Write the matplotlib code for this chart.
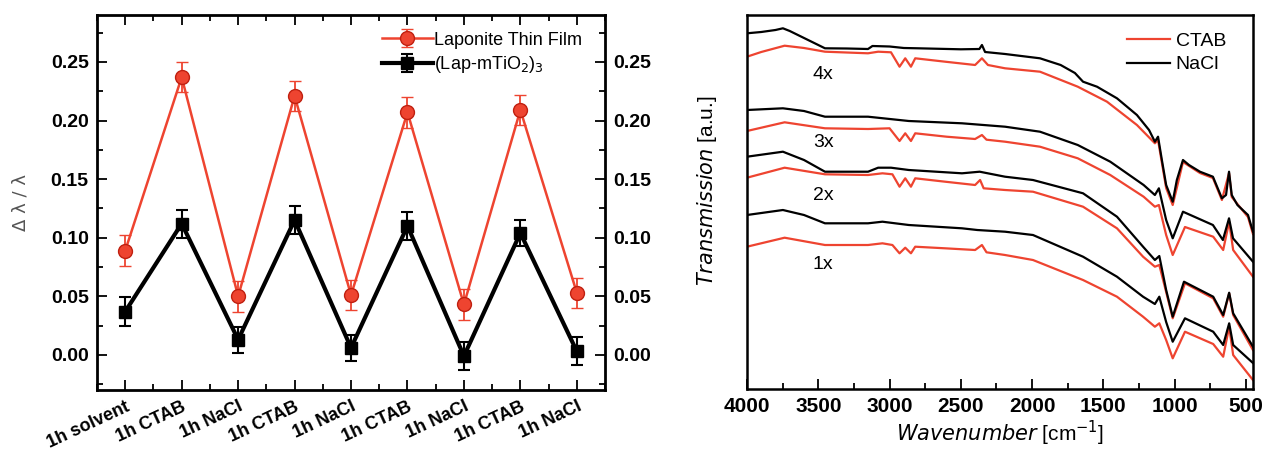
import numpy as np
import matplotlib
matplotlib.use("Agg")
import matplotlib.pyplot as plt
from matplotlib.ticker import MultipleLocator

plt.rcParams['font.family'] = ['Liberation Sans', 'DejaVu Sans']

# ---- left panel data ----
categories = ['1h solvent', '1h CTAB', '1h NaCl', '1h CTAB', '1h NaCl',
              '1h CTAB', '1h NaCl', '1h CTAB', '1h NaCl']
laponite = [0.089, 0.237, 0.050, 0.221, 0.051, 0.207, 0.043, 0.209, 0.053]
laponite_err = [0.013, 0.013, 0.013, 0.013, 0.013, 0.013, 0.013, 0.013, 0.013]
lap_tio2 = [0.037, 0.112, 0.013, 0.115, 0.006, 0.110, -0.001, 0.104, 0.003]
lap_tio2_err = [0.012, 0.012, 0.011, 0.012, 0.011, 0.012, 0.012, 0.011, 0.012]

# ---- right panel data (wavenumber, transmission a.u.) ----
w_4x_nacl = [4000, 3900, 3800, 3748, 3700, 3600, 3500, 3453, 3300, 3151, 3120, 3000,
             2900, 2800, 2500, 2370, 2352, 2330, 2190, 1945, 1800, 1700, 1643, 1545,
             1405, 1265, 1180, 1139, 1117, 1090, 1060, 1014, 985, 942, 900, 823, 732,
             669, 640, 619, 600, 560, 486, 451]
t_4x_nacl = [355.7, 357, 359, 360.7, 358, 351, 344, 340.7, 340.5, 340, 343, 342.5,
             341, 340.7, 339.7, 340, 344, 337, 335, 330.7, 324, 316, 307.3, 302.3,
             290.7, 274, 259, 247.3, 252.3, 229, 204, 187.3, 209, 229, 224, 217.3, 212.3,
             190.7, 194, 217.3, 194, 184, 174, 157.3]
w_4x_ctab = [4000, 3900, 3736, 3600, 3453, 3151, 3080, 2990, 2930, 2890, 2850, 2820,
             2610, 2400, 2352, 2310, 2190, 1945, 1680, 1475, 1265, 1139, 1117, 1060,
             1014, 942, 823, 732, 669, 619, 600, 486, 451]
t_4x_ctab = [332.3, 337, 343.3, 341, 337.3, 335.7, 337.3, 336.7, 322.3, 330.7, 322.3, 330.7,
             327.3, 324, 330.7, 324, 320.7, 317.3, 302.3, 287.3, 264, 245.7, 249, 201,
             184, 227, 216, 211, 189, 216, 192, 172, 155]

w_3x_nacl = [4000, 3748, 3600, 3453, 3151, 2865, 2492, 2190, 1945, 1680, 1452, 1218,
             1139, 1111, 1060, 1014, 942, 732, 662, 619, 591, 451]
t_3x_nacl = [279, 280.7, 278, 272.3, 272.3, 268, 265.7, 262.3, 257.3, 244, 227.3, 204,
             194, 200.7, 169, 150.7, 177.3, 164, 149, 170.7, 150.7, 127.3]
w_3x_ctab = [4000, 3736, 3453, 3151, 3000, 2930, 2890, 2850, 2820, 2600, 2400, 2352,
             2320, 2190, 1945, 1680, 1452, 1218, 1139, 1111, 1060, 1014, 928, 730, 660,
             618, 590, 451]
t_3x_ctab = [258, 266.7, 260.7, 260, 260.7, 248, 255.7, 248, 255.7, 252.3, 250, 254,
             249.3, 247.3, 242.3, 230.7, 214, 192.3, 182.3, 184, 154, 134, 162, 152.3, 139,
             167.3, 139, 112.3]

w_2x_nacl = [4000, 3748, 3600, 3453, 3151, 3080, 2990, 2865, 2492, 2368, 2190, 1994,
             1643, 1405, 1222, 1139, 1108, 1060, 1014, 935, 730, 660, 618, 590, 451]
t_2x_nacl = [232.3, 237.3, 229, 217.3, 217.3, 221.3, 221.3, 219, 215.7, 217.3, 212.3, 209,
             195.7, 172.3, 142.3, 129, 133, 99, 72.3, 107.3, 92.3, 74, 96.3, 75.7, 42.3]
w_2x_ctab = [4000, 3736, 3453, 3151, 3050, 2980, 2930, 2890, 2850, 2820, 2610, 2400,
             2365, 2340, 2190, 1994, 1643, 1405, 1222, 1139, 1108, 1060, 1014, 928, 730,
             660, 618, 590, 451]
t_2x_ctab = [211.3, 221.3, 214.7, 214, 215.7, 214.7, 202.3, 210.7, 202.3, 210.7, 207.3, 204,
             209, 200.7, 199, 197.3, 182.3, 160.7, 132.3, 122.3, 124, 97, 70.7, 105.7, 90.7,
             72.3, 95.7, 74, 39]

w_1x_nacl = [4000, 3748, 3600, 3453, 3151, 3050, 2865, 2492, 2385, 2190, 1994, 1643,
             1405, 1222, 1139, 1108, 1060, 1014, 928, 730, 660, 618, 590, 451]
t_1x_nacl = [174, 179, 174, 165.7, 165.7, 167.3, 164, 160.7, 159, 157.3, 154, 132.3,
             112.3, 92.3, 85, 92.3, 67, 47.3, 70.7, 57.3, 44, 65.7, 44, 26]
w_1x_ctab = [4000, 3736, 3453, 3151, 3050, 2980, 2930, 2890, 2850, 2820, 2610, 2400,
             2352, 2320, 2190, 1994, 1643, 1405, 1222, 1139, 1108, 1060, 1014, 928, 730,
             660, 618, 590, 451]
t_1x_ctab = [142.3, 151.3, 144, 144, 145.7, 144, 135.7, 141.3, 135.7, 142.3, 140.7, 139,
             144, 136.7, 134, 129, 109, 92.3, 72.3, 62.3, 65.7, 49, 30.7, 57.3, 45,
             32.3, 62.3, 34, 9]

layer_labels = ['4x', '3x', '2x', '1x']
layer_label_y = [314, 247, 194, 125]

red = '#ee4430'

fig = plt.figure(figsize=(12.65, 4.49), dpi=100)
ax = fig.add_axes([0.0767, 0.1314, 0.4016, 0.835])
ax2 = fig.add_axes([0.5905, 0.1336, 0.4, 0.833])

# ---------------- left ----------------
x = np.arange(len(categories))
ax.errorbar(x, laponite, yerr=laponite_err, color=red, lw=1.8, marker='o', ms=10,
            mfc=red, mec='#c02010', mew=1.0, capsize=4, elinewidth=1.3, capthick=1.3,
            label='Laponite Thin Film', zorder=3)
ax.errorbar(x, lap_tio2, yerr=lap_tio2_err, color='black', lw=3, marker='s', ms=9,
            mfc='black', mec='black', capsize=4, elinewidth=1.5, capthick=1.5,
            label='(Lap-mTiO$_2$)$_3$', zorder=3)

ax.set_xlim(-0.5, 8.5)
ax.set_ylim(-0.03, 0.29)
ax.set_xticks(x)
ax.set_xticklabels(categories, rotation=25, ha='right', rotation_mode='anchor',
                   fontsize=13, fontweight='bold')
ax.xaxis.set_minor_locator(MultipleLocator(0.5))
ax.yaxis.set_major_locator(MultipleLocator(0.05))
ax.yaxis.set_minor_locator(MultipleLocator(0.025))
ax.tick_params(which='both', direction='in', top=True, right=True, labelright=True,
               width=1.3)
ax.tick_params(which='major', length=7)
ax.tick_params(which='minor', length=4)
ax.tick_params(axis='y', labelsize=14, pad=6)
ax.tick_params(axis='x', pad=6)
for lab in ax.get_yticklabels():
    lab.set_fontweight('bold')
ax.yaxis.set_major_formatter(plt.FuncFormatter(lambda v, p: f'{v:.2f}'))
for sp in ax.spines.values():
    sp.set_linewidth(2)
ax.set_ylabel('Δ λ / λ', fontsize=13, color='#555555', family=['DejaVu Sans'])
ax.yaxis.set_label_coords(-0.132, 0.5)
leg = ax.legend(loc='upper right', bbox_to_anchor=(0.975, 0.985), frameon=False,
                fontsize=13, handlelength=2.8, handletextpad=0.05, labelspacing=0.3,
                borderaxespad=0.2)

# ---------------- right ----------------
lw = 1.6
curves = [(w_4x_ctab, t_4x_ctab, w_4x_nacl, t_4x_nacl),
          (w_3x_ctab, t_3x_ctab, w_3x_nacl, t_3x_nacl),
          (w_2x_ctab, t_2x_ctab, w_2x_nacl, t_2x_nacl),
          (w_1x_ctab, t_1x_ctab, w_1x_nacl, t_1x_nacl)]
for i, (wc, tc, wn, tn) in enumerate(curves):
    ax2.plot(wc, tc, color=red, lw=lw, label='CTAB' if i == 0 else None)
    ax2.plot(wn, tn, color='black', lw=lw, label='NaCl' if i == 0 else None)
for lab, yy in zip(layer_labels, layer_label_y):
    ax2.text(3465, yy, lab, fontsize=14, ha='center', va='center')

ax2.set_xlim(4000, 451)
ax2.set_ylim(0, 374)
ax2.set_yticks([])
ax2.xaxis.set_major_locator(MultipleLocator(500))
ax2.xaxis.set_minor_locator(MultipleLocator(250))
ax2.tick_params(which='both', direction='in', width=1.3)
ax2.tick_params(which='major', length=7, labelsize=15, pad=6)
ax2.tick_params(which='minor', length=4)
for lab in ax2.get_xticklabels():
    lab.set_fontweight('bold')
for sp in ax2.spines.values():
    sp.set_linewidth(1.8)
ax2.set_xlabel(r'$\it{Wavenumber}$ [cm$^{-1}$]', fontsize=15, labelpad=2)
ax2.set_ylabel(r'$\it{Transmission}$ [a.u.]', fontsize=15)
ax2.yaxis.set_label_coords(-0.055, 0.53)
ax2.legend(loc='upper right', bbox_to_anchor=(0.97, 0.985), frameon=False, fontsize=14,
           handlelength=2.2, handletextpad=0.3, labelspacing=0.3, borderaxespad=0.2)

fig.savefig('out.png', dpi=100)
